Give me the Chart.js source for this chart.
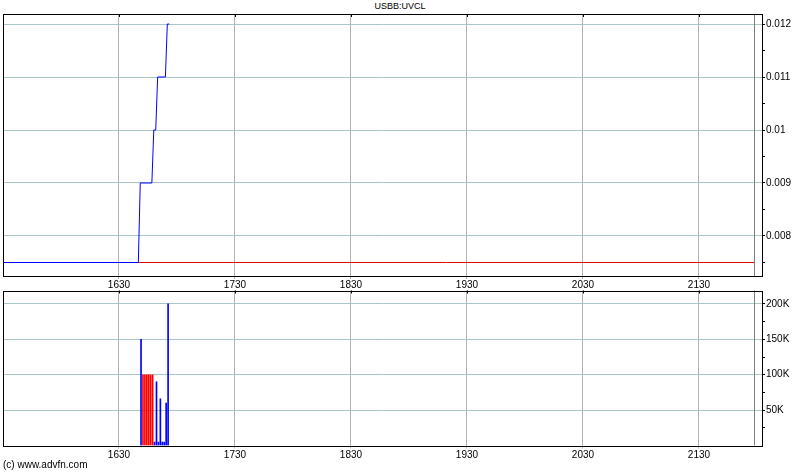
<!DOCTYPE html>
<html>
<head>
<meta charset="utf-8">
<script src="https://cdn.jsdelivr.net/npm/chart.js@4.4.1/dist/chart.umd.min.js"></script>
<style>
  body { margin: 0; background: #fff; }
  #wrap { position: relative; width: 800px; height: 475px; overflow: hidden; }
  #title { position: absolute; top: 1px; left: 0; width: 800px; text-align: center;
           font: 9px "Liberation Sans", sans-serif; color: #000; }
  #copy { position: absolute; top: 459px; left: 3px;
          font: 10px "Liberation Sans", sans-serif; color: #000; }
  #priceBox { position: absolute; top: 0; left: 0; width: 800px; height: 290px; }
  #volBox { position: absolute; top: 280px; left: 0; width: 800px; height: 182px; }
</style>
</head>
<body>
<div id="wrap">
  <div id="title">USBB:UVCL</div>
  <div id="priceBox"><canvas id="priceChart" width="800" height="290"></canvas></div>
  <div id="volBox"><canvas id="volChart" width="800" height="182"></canvas></div>
  <div id="copy">(c) www.advfn.com</div>
</div>
<script>
// session runs 15:30 - 22:00 (minutes counted from 15:30)
var sessionStart = '15:30';
var xTickTimes = ['16:30', '17:30', '18:30', '19:30', '20:30', '21:30'];
var xTickLabels = ['1630', '1730', '1830', '1930', '2030', '2130'];

var priceTimes = ['15:30', '16:40', '16:41', '16:47', '16:48', '16:49', '16:50', '16:54', '16:55', '16:56'];
var priceValues = [0.0075, 0.0075, 0.009, 0.009, 0.010, 0.010, 0.011, 0.011, 0.012, 0.012];

var refTimes = ['16:40', '21:59'];
var refValues = [0.0075, 0.0075];

var volTimes = ['16:41', '16:42', '16:43', '16:44', '16:45', '16:46', '16:47', '16:48',
                '16:49', '16:50', '16:51', '16:52', '16:53', '16:54', '16:55'];
var volValues = [150000, 100000, 100000, 100000, 100000, 100000, 100000, 5000,
                 90000, 5000, 66000, 5000, 5000, 60000, 200000];
var volUp = [true, false, false, false, false, false, false, true,
             true, true, true, true, true, true, true];

var priceTicks = [0.0075, 0.008, 0.0085, 0.009, 0.0095, 0.01, 0.0105, 0.011, 0.0115, 0.012];
var priceTickLabels = ['', '0.008', '', '0.009', '', '0.01', '', '0.011', '', '0.012'];
var volTicks = [25000, 50000, 75000, 100000, 125000, 150000, 175000, 200000];
var volTickLabels = ['', '50K', '', '100K', '', '150K', '', '200K'];

function toMin(t) {
    var a = t.split(':'), b = sessionStart.split(':');
    return (+a[0] * 60 + +a[1]) - (+b[0] * 60 + +b[1]);
}

var xTickValues = xTickTimes.map(toMin);
var closeMarker = toMin('21:59') - 0.3;
var X_MAX = 392.6;
var FONT = { family: 'Liberation Sans', size: 10 };
var H_GRID = '#a9c6c6';
var V_GRID = '#b3b3b3';

// frame round the plot, inner tick marks on top edge and the close marker
var framePlugin = {
    id: 'frame',
    afterDatasetsDraw: function (chart) {
        var ctx = chart.ctx, a = chart.chartArea, xs = chart.scales.x;
        ctx.save();
        ctx.strokeStyle = '#7f7f7f';
        ctx.lineWidth = 1;
        var mx = Math.round(xs.getPixelForValue(closeMarker)) + 0.5;
        ctx.beginPath();
        ctx.moveTo(mx, a.top);
        ctx.lineTo(mx, a.bottom);
        ctx.stroke();
        ctx.strokeStyle = '#000';
        ctx.strokeRect(Math.round(a.left) + 0.5, Math.round(a.top) + 0.5,
                       Math.round(a.right - a.left), Math.round(a.bottom - a.top));
        ctx.beginPath();
        xTickValues.forEach(function (v) {
            var px = Math.round(xs.getPixelForValue(v)) + 0.5;
            ctx.moveTo(px, a.top);
            ctx.lineTo(px, a.top + 3);
        });
        ctx.stroke();
        ctx.restore();
    }
};

function xAxis(height, pad) {
    return {
        type: 'linear',
        min: 0,
        max: X_MAX,
        offset: false,
        afterBuildTicks: function (s) {
            s.ticks = xTickValues.map(function (v) { return { value: v }; });
        },
        afterFit: function (s) { s.height = height; },
        ticks: {
            autoSkip: false,
            maxRotation: 0,
            padding: pad,
            color: '#000',
            font: FONT,
            callback: function (v, i) { return xTickLabels[i]; }
        },
        grid: { offset: false, color: V_GRID, tickColor: V_GRID, tickLength: 3 },
        border: { display: false }
    };
}

function yAxis(min, max, tickVals, tickLabels) {
    return {
        type: 'linear',
        position: 'right',
        min: min,
        max: max,
        afterBuildTicks: function (s) {
            s.ticks = tickVals.map(function (v) { return { value: v }; });
        },
        afterFit: function (s) { s.width = 38; },
        ticks: {
            autoSkip: false,
            padding: 1,
            color: '#000',
            font: FONT,
            callback: function (v, i) { return tickLabels[i]; }
        },
        grid: {
            color: function (c) { return tickLabels[c.index] ? H_GRID : 'rgba(0,0,0,0)'; },
            tickColor: '#000',
            tickLength: 3
        },
        border: { display: false }
    };
}

var priceChart = new Chart(document.getElementById('priceChart').getContext('2d'), {
    type: 'line',
    data: {
        datasets: [{
            label: 'Price',
            data: priceTimes.map(function (t, i) { return { x: toMin(t), y: priceValues[i] }; }),
            borderColor: '#0000ff',
            borderWidth: 1,
            pointRadius: 0,
            tension: 0
        }, {
            label: 'Previous close',
            data: refTimes.map(function (t, i) { return { x: toMin(t), y: refValues[i] }; }),
            borderColor: '#e00000',
            borderWidth: 1,
            pointRadius: 0,
            tension: 0
        }]
    },
    options: {
        responsive: false,
        animation: false,
        layout: { padding: { left: 3, top: 14, right: 0, bottom: 0 } },
        plugins: { legend: { display: false }, tooltip: { enabled: false } },
        scales: {
            x: xAxis(14, 0),
            y: yAxis(0.007245, 0.012189, priceTicks, priceTickLabels)
        }
    },
    plugins: [framePlugin]
});

var barOffset = 0.4;
var volChart = new Chart(document.getElementById('volChart').getContext('2d'), {
    type: 'bar',
    data: {
        datasets: [{
            label: 'Volume',
            data: volTimes.map(function (t, i) { return { x: toMin(t) + barOffset, y: volValues[i] }; }),
            backgroundColor: volUp.map(function (u) { return u ? '#0000ff' : '#ff0000'; }),
            barThickness: 1,
            borderWidth: 0
        }]
    },
    options: {
        responsive: false,
        animation: false,
        layout: { padding: { left: 3, top: 10.5, right: 0, bottom: 0 } },
        plugins: { legend: { display: false }, tooltip: { enabled: false } },
        scales: {
            x: xAxis(16.5, 1),
            y: yAxis(0, 219000, volTicks, volTickLabels)
        }
    },
    plugins: [framePlugin]
});
</script>
</body>
</html>
